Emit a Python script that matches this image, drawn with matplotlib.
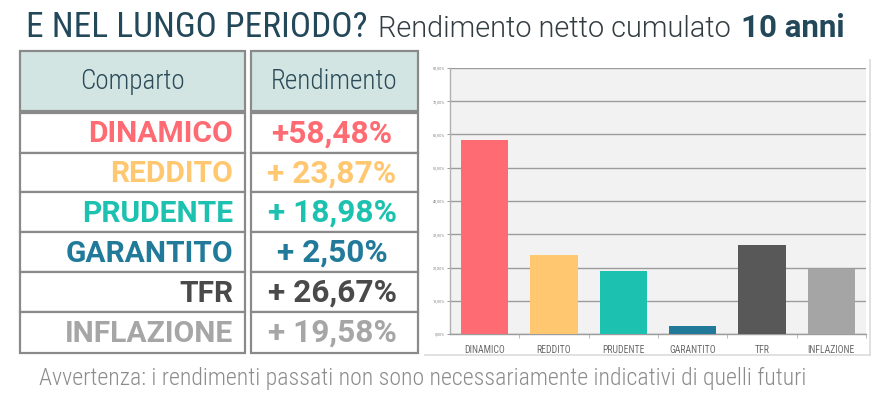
import matplotlib
matplotlib.use("Agg")
import matplotlib.pyplot as plt
from matplotlib.patches import Rectangle
from matplotlib.lines import Line2D
from matplotlib.ticker import FuncFormatter, MultipleLocator, FixedLocator

# ---------------- data ----------------
categories = ["DINAMICO", "REDDITO", "PRUDENTE", "GARANTITO", "TFR", "INFLAZIONE"]
values = [58.48, 23.87, 18.98, 2.50, 26.67, 19.58]
value_labels = ["+58,48%", "+ 23,87%", "+ 18,98%", "+ 2,50%", "+ 26,67%", "+ 19,58%"]
header_labels = ["Comparto", "Rendimento"]
title_main = "E NEL LUNGO PERIODO?"
title_sub = "Rendimento netto cumulato"
title_bold = "10 anni"
footer = "Avvertenza: i rendimenti passati non sono necessariamente indicativi di quelli futuri"
y_max = 80
y_step = 10

# ---------------- styles ----------------
colors = ["#ff6b72", "#ffc870", "#1dc1af", "#217a9a", "#585858", "#a5a5a5"]
text_colors = ["#ff6b72", "#ffc870", "#1dc1af", "#217a9a", "#4a4a4a", "#a6a6a6"]
FONT_C = "Roboto Condensed"
FONT = "Roboto"
W, H = 885, 395

fig = plt.figure(figsize=(W / 100, H / 100), dpi=100)
fig.patch.set_facecolor("white")


def fx(x):
    return x / W


def fy(y):
    return 1 - y / H


renderer = fig.canvas.get_renderer()

# ---------------- title ----------------
t1 = fig.text(fx(26), fy(37), title_main, family=FONT_C, weight=400, fontsize=25.5,
              color="#22485a", ha="left", va="baseline")
x_end = t1.get_window_extent(renderer).x1
t2 = fig.text((x_end + 11) / W, fy(37), title_sub, family=FONT, weight=300, fontsize=20.8,
              color="#333c40", ha="left", va="baseline")
x_end = t2.get_window_extent(renderer).x1
fig.text((x_end + 10) / W, fy(37), title_bold, family=FONT, weight=700, fontsize=22.5,
         color="#22485a", ha="left", va="baseline")

# ---------------- table ----------------
col_left = (20, 245)
col_right = (251, 418)
border = "#8a8a8a"
header_top, header_bot = 51, 111
row_edges = [113, 153, 192, 232, 272, 312, 353]


def box(x0, x1, y0, y1, fc):
    fig.patches.append(Rectangle((fx(x0), fy(y1)), (x1 - x0) / W, (y1 - y0) / H,
                                 transform=fig.transFigure, facecolor=fc,
                                 edgecolor=border, linewidth=1.6, zorder=1))


for (x0, x1), lab in zip([col_left, col_right], header_labels):
    box(x0, x1, header_top, header_bot, "#d2e5e3")
    fig.text(fx((x0 + x1) / 2), fy(89), lab, family=FONT_C, weight=300, fontsize=19.5,
             color="#2b4b58", ha="center", va="baseline")

for i, (cat, lab, tc) in enumerate(zip(categories, value_labels, text_colors)):
    y0, y1 = row_edges[i], row_edges[i + 1]
    box(col_left[0], col_left[1], y0, y1, "white")
    box(col_right[0], col_right[1], y0, y1, "white")
    base = y0 + 29.5
    fig.text(fx(233), fy(base), cat, family=FONT, weight=700, fontsize=21.6,
             color=tc, ha="right", va="baseline")
    fig.text(fx(332), fy(base), lab, family=FONT, weight=700, fontsize=22.8,
             color=tc, ha="center", va="baseline")

# ---------------- footer ----------------
fig.text(fx(39), fy(385), footer, family=FONT_C, weight=300, fontsize=17.1,
         color="#8c8c8c", ha="left", va="baseline")

# ---------------- bar chart ----------------
fig.lines.append(Line2D([fx(870), fx(870)], [fy(60), fy(355)], transform=fig.transFigure,
                        color="#dcdcdc", linewidth=1.2))
fig.lines.append(Line2D([fx(425), fx(870)], [fy(355), fy(355)], transform=fig.transFigure,
                        color="#dcdcdc", linewidth=1.2))

ax = fig.add_axes([fx(450), fy(334), 416 / W, 266 / H])
ax.set_facecolor("#f2f2f2")
x = list(range(len(categories)))
ax.bar(x, values, width=0.68, color=colors, zorder=3)
ax.set_xlim(-0.5, len(categories) - 0.5)
ax.set_ylim(0, y_max)
ax.yaxis.set_major_locator(MultipleLocator(y_step))
ax.yaxis.set_major_formatter(FuncFormatter(lambda v, p: f"{v:.2f}%".replace(".", ",")))
ax.grid(axis="y", color="#9c9c9c", linewidth=1.0, zorder=1)
ax.set_axisbelow(True)
for s in ["top", "right"]:
    ax.spines[s].set_visible(False)
ax.spines["left"].set_color("#b0b0b0")
ax.spines["left"].set_linewidth(1.0)
ax.spines["bottom"].set_color("#9c9c9c")
ax.spines["bottom"].set_linewidth(1.0)
ax.tick_params(axis="y", labelsize=3.2, colors="#8a8a8a", length=2, width=0.6, pad=1.5,
               labelcolor="#8a8a8a")
ax.set_xticks(x)
ax.set_xticklabels(categories, family=FONT_C, fontsize=7, color="#6a6a6a")
ax.tick_params(axis="x", length=0, pad=8)
ax.xaxis.set_minor_locator(FixedLocator([i + 0.5 for i in range(len(categories))]))
ax.tick_params(axis="x", which="minor", length=3, width=0.6, color="#b0b0b0")
for lab in ax.get_yticklabels():
    lab.set_family(FONT_C)

fig.savefig("out.png", dpi=100, facecolor="white")
